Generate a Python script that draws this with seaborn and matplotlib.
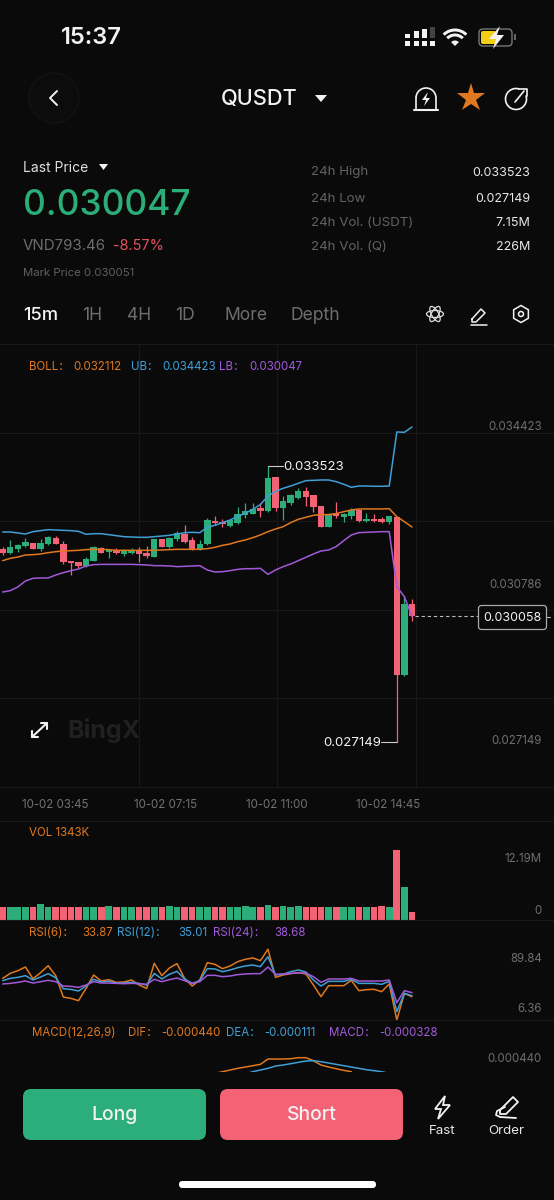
import numpy as np
import pandas as pd
import matplotlib
matplotlib.use('Agg')
import matplotlib.pyplot as plt
import seaborn as sns
from matplotlib.patches import FancyBboxPatch, Circle, Arc, Wedge, Polygon, Ellipse, RegularPolygon

# Candles, prices in 1e-6 USDT
open_p = [31595,31518,31595,31672,31742,31595,31719,31865,31719,31318,31295,31210,31326,31618,31534,31572,31487,31518,31557,31503,
          31410,31826,31641,31834,31950,31819,31595,31711,32258,32235,32135,32212,32396,32412,32543,32481,33275,32543,32674,32790,
          32944,32851,32597,32119,32428,32351,32374,32505,32258,32304,32304,32235,32350,28691,30332]
high_p = [31641,31811,31719,31857,31742,31834,31896,31896,31795,31318,31295,31426,31665,31657,31580,31626,31611,31626,31641,31665,
          31834,31826,31888,32011,32158,31888,31811,32312,32366,32304,32304,32581,32659,32659,32659,33523,33275,32828,32874,33005,
          33029,32851,32597,32443,32697,32443,32559,32520,32428,32404,32351,32374,32350,30517,30447]
low_p = [31457,31487,31541,31657,31611,31557,31703,31711,31264,31002,31156,31195,31318,31503,31403,31487,31441,31487,31310,31395,
         31410,31641,31618,31795,31734,31580,31580,31695,32158,32119,32119,32181,32327,32404,32335,32466,32489,32273,32613,32767,
         32597,32466,32119,32119,32312,32235,32297,32235,32220,32220,32204,32181,27149,28668,29931]
close_p = [31518,31641,31695,31772,31611,31742,31880,31719,31310,31287,31210,31372,31641,31510,31572,31503,31557,31557,31487,31441,
           31826,31641,31849,31965,31772,31595,31719,32273,32212,32181,32273,32404,32474,32520,32481,33236,32543,32713,32844,32944,
           32813,32566,32119,32404,32366,32412,32505,32258,32297,32258,32227,32358,28683,30332,30058]

boll_ub = [31996,31996,31973,31950,32004,32027,32050,32042,32034,32027,32011,31942,31957,31957,31934,31911,31888,31880,31873,31873,
           31888,31903,31919,31950,31980,31988,31980,32104,32150,32212,32273,32358,32427,32520,32628,32828,32936,33005,33059,33121,
           33183,33190,33198,33198,33160,33098,33029,33059,33059,33052,33052,33059,34308,34300,34423]
boll_mid = [31333,31387,31418,31464,31472,31487,31518,31541,31557,31564,31572,31588,31595,31595,31588,31572,31572,31572,31572,31572,
            31572,31580,31588,31595,31595,31595,31595,31611,31641,31688,31719,31772,31811,31865,31927,32004,32065,32119,32212,32289,
            32335,32381,32397,32397,32420,32466,32505,32528,32528,32528,32528,32536,32351,32235,32112]
boll_lb = [30609,30640,30725,30863,30925,30933,30933,31002,31056,31102,31141,31210,31241,31248,31248,31248,31248,31248,31241,31233,
           31218,31218,31210,31195,31202,31210,31218,31118,31071,31079,31102,31133,31148,31148,31156,31017,31118,31195,31256,31333,
           31411,31488,31557,31580,31657,31796,31927,31981,31988,31996,32004,32004,30733,30501,30047]

# Volume in thousands
volume = [2150,2150,2150,2092,2092,2615,2150,2150,2150,2150,2150,2150,2150,2150,2266,2150,2150,2150,2150,2150,
          2150,2150,2324,2150,2150,2150,2208,2208,2150,2150,2150,2150,2324,2150,2150,2556,2150,2266,2092,2266,
          2150,2092,2092,2150,2092,2092,2092,2150,2150,2150,2324,2092,12190,5636,1343]

rsi_6 = [55.5,61.4,64.6,68.9,55.1,62.2,70.5,58.7,33.5,31.9,29.2,43.7,59.5,52.4,54.0,50.8,51.2,53.6,47.7,43.7,
         73.3,58.7,67.8,72.9,55.5,46.5,53.6,74.0,72.1,67.0,70.1,75.2,78.0,79.6,76.4,89.84,56.7,59.5,61.1,62.2,
         60.7,47.7,33.9,46.9,46.9,46.9,53.2,41.0,42.2,42.6,39.8,48.9,6.36,37.8,33.87]
rsi_12 = [52.8,55.5,56.7,58.7,53.6,57.1,61.1,56.3,43.3,42.5,40.6,46.5,54.4,51.2,52.0,50.0,50.0,50.8,49.6,47.7,
          61.4,54.8,60.3,63.8,54.8,49.6,52.8,67.0,66.6,63.4,65.4,68.1,70.1,71.3,69.3,81.1,59.5,60.3,63.4,65.4,
          63.0,53.6,46.5,52.0,52.0,52.0,54.4,49.6,49.6,49.6,48.5,52.0,16.2,37.8,35.01]
rsi_24 = [48.9,49.6,50.8,52.4,50.0,51.6,53.2,51.6,46.5,46.1,44.9,47.7,51.6,50.0,50.0,49.6,49.2,49.6,49.2,48.5,
          54.4,51.6,54.0,55.9,52.8,49.6,51.6,59.1,59.1,57.5,58.3,59.9,60.7,61.1,61.1,68.9,60.3,60.7,61.4,61.8,
          61.8,57.5,50.8,54.8,54.8,54.8,55.5,52.4,52.4,52.4,52.4,53.6,26.8,41.0,38.68]

# MACD panel is cut off by the buttons, only the visible part
dif_idx = list(range(28, 47))
dif_val = [.000205,.00023,.000255,.00028,.0003,.00032,.00034,.00042,.00042,.00042,.000425,.00044,.00044,.000395,.00033,.0003,.000275,.00025,.00023]
dea_idx = list(range(32, 52))
dea_val = [.000195,.00023,.000255,.00028,.000315,.00033,.00035,.00037,.00039,.000395,.00038,.00036,.00034,.00032,.0003,.00028,.00026,.000245,.00023,.000205]

date_labels = ['10-02 03:45', '10-02 07:15', '10-02 11:00', '10-02 14:45']
tab_labels = ['15m', '1H', '4H', '1D', 'More', 'Depth']

BG = '#0a0a0a'
GRID = '#181818'
GREEN = '#2bae7a'
RED = '#f46375'
ORANGE = '#e0781f'
BLUE = '#3f9fd6'
PURPLE = '#a259d9'
GRAY = '#6e6e6e'
WHITE = '#f2f2f2'

sns.set_theme(style='dark', rc={'axes.facecolor': BG, 'figure.facecolor': BG, 'savefig.facecolor': BG})
plt.rcParams['font.family'] = ['Inter', 'Noto Sans CJK SC', 'DejaVu Sans']

W, H = 554, 1200
fig = plt.figure(figsize=(W / 100, H / 100), dpi=100)


def panel(top, bottom):
    ax = fig.add_axes([0, 1 - bottom / H, 1, (bottom - top) / H])
    ax.set_facecolor(BG)
    for s in ax.spines.values():
        s.set_visible(False)
    ax.set_xlim(-0.352, 72.74)
    ax.set_xticks([])
    ax.set_yticks([])
    ax.set_xlabel('')
    ax.set_ylabel('')
    return ax


def line(ax, xs, ys, color, lw=1.1):
    sns.lineplot(x=xs, y=ys, color=color, lw=lw, ax=ax, estimator=None, errorbar=None, zorder=5)
    ax.set_xlabel('')
    ax.set_ylabel('')


idx = np.arange(len(close_p))
o, h, l, c = [np.array(a) / 1e6 for a in (open_p, high_p, low_p, close_p)]
is_up = c >= o
colors = [GREEN if u else RED for u in is_up]

# main chart
ax = panel(344, 787)
ax.set_ylim(0.026102, 0.036341)
ax.vlines(idx, l, h, colors=colors, lw=0.9, zorder=2)
ax.bar(idx, np.abs(c - o), bottom=np.minimum(o, c), width=0.85, color=colors, linewidth=0, zorder=3)
line(ax, idx, np.array(boll_ub) / 1e6, BLUE)
line(ax, idx, np.array(boll_mid) / 1e6, ORANGE)
line(ax, idx, np.array(boll_lb) / 1e6, PURPLE)
x0, x1 = ax.get_xlim()
y0, y1 = ax.get_ylim()
ax.set_xticks(np.linspace(x0, x1, 5)[1:-1])
ax.set_yticks(np.linspace(y0, y1, 6)[1:-1])
ax.set_xticklabels([])
ax.set_yticklabels([])
ax.tick_params(length=0)
ax.grid(True, color=GRID, lw=0.8)
ax.set_axisbelow(True)
# high / low / last markers
ax.plot([35, 37.05], [h[35], h[35]], color='#cccccc', lw=0.8, zorder=6)
ax.plot([52, 49.9], [l[52], l[52]], color='#cccccc', lw=0.8, zorder=6)
ax.plot([54.4, 62.9], [c[54], c[54]], color='#bbbbbb', lw=0.8, ls=(0, (3, 2.5)), zorder=6)
ax.annotate('0.033523', (37.05, h[35]), xytext=(0, -1), textcoords='offset points', color=WHITE,
            fontsize=9.5, va='center', ha='left', zorder=7)
ax.annotate('0.027149', (49.9, l[52]), xytext=(0, -1), textcoords='offset points', color=WHITE,
            fontsize=9.5, va='center', ha='right', zorder=7)

# volume
ax_vol = panel(821, 920)
df_vol = pd.DataFrame({'idx': idx, 'vol': volume, 'side': ['up' if u else 'down' for u in is_up]})
sns.barplot(data=df_vol, x='idx', y='vol', hue='side', palette={'up': GREEN, 'down': RED}, native_scale=True,
            dodge=False, width=0.88, saturation=1, legend=False, linewidth=0, ax=ax_vol)
ax_vol.set_xlim(-0.352, 72.74)
ax_vol.set_ylim(-87, 17168)
ax_vol.set_xticks([])
ax_vol.set_yticks([])
ax_vol.set_xlabel('')
ax_vol.set_ylabel('')

# RSI
ax_rsi = panel(920, 1021)
ax_rsi.set_ylim(5.2, 124.4)
line(ax_rsi, idx, rsi_6, ORANGE)
line(ax_rsi, idx, rsi_12, BLUE)
line(ax_rsi, idx, rsi_24, PURPLE)
ax_rsi.set_xticks([])
ax_rsi.set_yticks([])

# MACD
ax_macd = panel(1021, 1072)
ax_macd.set_ylim(0.0002255, 0.00099)
line(ax_macd, dif_idx, dif_val, ORANGE)
line(ax_macd, dea_idx, dea_val, BLUE)
ax_macd.set_xticks([])
ax_macd.set_yticks([])

# everything around the chart, in screen pixels
ui = fig.add_axes([0, 0, 1, 1], zorder=20)
ui.set_xlim(0, W)
ui.set_ylim(H, 0)
ui.axis('off')
ui.patch.set_alpha(0)


def txt(x, y, s, color=WHITE, size=8.3, ha='left', weight='normal'):
    # inter sits a bit high with va=center
    ui.text(x, y + 1.5, s, color=color, fontsize=size, ha=ha, va='center', fontweight=weight)


def stroke(xs, ys, color=WHITE, lw=1.2):
    ui.plot(xs, ys, color=color, lw=lw, solid_capstyle='round', solid_joinstyle='round')


for y in [344, 787, 821, 920, 1020]:
    ui.plot([0, W], [y, y], color=GRID, lw=0.8)

# status bar
txt(91, 37, '15:37', size=17, ha='center', weight='semibold')
for x, top, col in [(407, 34, WHITE), (416, 31, WHITE), (424, 29, WHITE), (432, 27, '#444444')]:
    ui.add_patch(plt.Rectangle((x - 2.5, top), 5, 38 - top, color=col, lw=0))
    ui.add_patch(plt.Rectangle((x - 2.5, 41), 5, 5, color=WHITE, lw=0))
for r, w in [(16, 3), (11, 3)]:
    ui.add_patch(Arc((455, 46), r * 2, r * 2, theta1=225, theta2=315, color=WHITE, lw=w * 0.72))
ui.add_patch(Wedge((455, 46), 5.5, 225, 315, color=WHITE, lw=0))
ui.add_patch(FancyBboxPatch((479, 29), 33, 17, boxstyle='round,pad=0,rounding_size=4', fc='none', ec='#777777', lw=1))
ui.add_patch(FancyBboxPatch((481, 31), 15, 13, boxstyle='round,pad=0,rounding_size=2', fc='#f5cf16', ec='none'))
ui.add_patch(Polygon([(500, 26), (489, 39), (496, 39), (493, 49), (504, 35), (497, 35)], color=WHITE, lw=0))
ui.add_patch(plt.Rectangle((514, 34), 1.5, 6, color='#666666', lw=0))

# title row
ui.add_patch(Circle((54, 98), 25, fc='#0c0c0c', ec='#131313', lw=1))
stroke([57, 50, 57], [91, 98, 105], lw=1.4)
txt(259, 98, 'QUSDT', size=15.6, ha='center', weight='medium')
ui.add_patch(Polygon([(315, 95), (327, 95), (321, 102)], color=WHITE, lw=0))
# bell
ui.add_patch(Arc((426, 98), 20, 20, theta1=180, theta2=360, color=WHITE, lw=1.2))
stroke([416, 416], [98, 109])
stroke([436, 436], [98, 109])
stroke([414, 438], [109.5, 109.5], lw=1.5)
ui.add_patch(Polygon([(428, 92), (422, 100), (426, 100), (424, 106), (430, 98), (426, 98)], color=WHITE, lw=0))
ui.plot([471], [98], marker='*', ms=21, color=ORANGE, mew=0)
# share
ui.add_patch(Arc((516, 99), 21, 21, theta1=-20, theta2=290, color=WHITE, lw=1.2))
stroke([515, 524], [102, 91])
stroke([519, 527, 527], [89, 89, 96])

# price block
txt(23, 167, 'Last Price', color='#e0e0e0', size=10)
ui.add_patch(Polygon([(99, 164), (108, 164), (103.5, 170)], color=WHITE, lw=0))
txt(23, 204, '0.030047', color=GREEN, size=25.5, weight='medium')
txt(23, 245, 'VND793.46', color=GRAY, size=10.8)
txt(113, 245, '-8.57%', color='#e4525f', size=10.4)
txt(23, 271, 'Mark Price 0.030051', color='#606060', size=8.2)
for y, name, val in [(171, '24h High', '0.033523'), (197, '24h Low', '0.027149'),
                     (221, '24h Vol. (USDT)', '7.15M'), (246, '24h Vol. (Q)', '226M')]:
    txt(311, y, name, color='#626262', size=9.6)
    txt(530, y, val, color='#e8e8e8', size=9, ha='right')

# interval tabs
for x, s in zip([23, 82, 127, 175, 224, 290], tab_labels):
    if s == '15m':
        txt(x, 314, s, color=WHITE, size=13.2, weight='medium')
    else:
        txt(x, 314, s, color=GRAY, size=12.6)
for ang in [0, 60, 120]:
    ui.add_patch(Ellipse((435, 314), 17, 7, angle=ang, fc='none', ec='#dddddd', lw=0.9))
stroke([472, 481, 485, 476, 472, 472], [319, 309, 313, 322, 322, 319], lw=1.1)
stroke([471, 487], [325, 325], lw=1.1)
ui.add_patch(RegularPolygon((521, 314), 6, radius=8.5, fc='none', ec=WHITE, lw=1.1))
ui.add_patch(Circle((521, 314), 2.5, fc='none', ec=WHITE, lw=1.1))

# legend rows
txt(29, 366, 'BOLL：', color=ORANGE)
txt(73, 366, '0.032112', color=ORANGE)
txt(131, 366, 'UB：', color=BLUE)
txt(162, 366, '0.034423', color=BLUE)
txt(219, 366, 'LB：', color=PURPLE)
txt(249, 366, '0.030047', color=PURPLE)

txt(542, 426, '0.034423', color=GRAY, ha='right')
txt(542, 583, '0.030786', color=GRAY, ha='right')
txt(542, 740, '0.027149', color=GRAY, ha='right')

# last price tag
ui.add_patch(FancyBboxPatch((478.5, 605.5), 68, 24, boxstyle='round,pad=0,rounding_size=3', fc=BG, ec='#aaaaaa', lw=0.9))
txt(512.5, 616.5, '0.030058', color=WHITE, size=9, ha='center')
ui.plot([547, 550], [617, 617], color='#bbbbbb', lw=0.8)

# expand icon and watermark
stroke([32, 47], [737, 723], lw=1.5)
stroke([32, 32, 38], [731, 737, 737], lw=1.5)
stroke([41, 47, 47], [723, 723, 729], lw=1.5)
txt(67, 729, 'BingX', color='#202020', size=18, weight='bold')

for x, s in zip([55, 166, 277, 388], date_labels):
    txt(x, 803, s, color='#707070', ha='center')

txt(29, 832, 'VOL 1343K', color=ORANGE)
txt(542, 858, '12.19M', color=GRAY, ha='right')
txt(542, 909, '0', color=GRAY, ha='right')

txt(29, 932, 'RSI(6)：', color=ORANGE)
txt(82, 932, '33.87', color=ORANGE)
txt(117, 932, 'RSI(12)：', color=BLUE)
txt(178, 932, '35.01', color=BLUE)
txt(213, 932, 'RSI(24)：', color=PURPLE)
txt(274, 932, '38.68', color=PURPLE)
txt(542, 958, '89.84', color=GRAY, ha='right')
txt(542, 1008, '6.36', color=GRAY, ha='right')

txt(32, 1031, 'MACD(12,26,9)', color=ORANGE)
txt(128, 1031, 'DIF：', color=ORANGE)
txt(161, 1031, '-0.000440', color=ORANGE)
txt(226, 1031, 'DEA：', color=BLUE)
txt(264, 1031, '-0.000111', color=BLUE)
txt(329, 1031, 'MACD：', color=PURPLE)
txt(379, 1031, '-0.000328', color=PURPLE)
txt(542, 1057, '0.000440', color=GRAY, ha='right')

# bottom bar
ui.add_patch(plt.Rectangle((0, 1072), W, 128, color=BG, lw=0))
for x0_b, col, s in [(23, GREEN, 'Long'), (220, RED, 'Short')]:
    ui.add_patch(FancyBboxPatch((x0_b, 1089), 183, 51, boxstyle='round,pad=0,rounding_size=8', fc=col, ec='none'))
    txt(x0_b + 91.5, 1114, s, size=14, ha='center', weight='medium')
ui.add_patch(Polygon([(445, 1096), (435, 1109), (441, 1109), (438, 1119), (450, 1105), (443, 1105)], fc='none', ec=WHITE, lw=1.3))
txt(442, 1130, 'Fast', color='#e6e6e6', size=9.6, ha='center')
stroke([500, 513, 518, 506, 500, 500], [1110, 1097, 1102, 1114, 1114, 1110], lw=1.3)
stroke([505, 497, 496, 500, 516], [1107, 1111, 1115, 1117, 1118], lw=1.3)
txt(506, 1130, 'Order', color='#e6e6e6', size=9.6, ha='center')
ui.add_patch(FancyBboxPatch((179, 1181), 197, 7, boxstyle='round,pad=0,rounding_size=3.5', fc='white', ec='none'))

fig.savefig('out.png', dpi=100)
